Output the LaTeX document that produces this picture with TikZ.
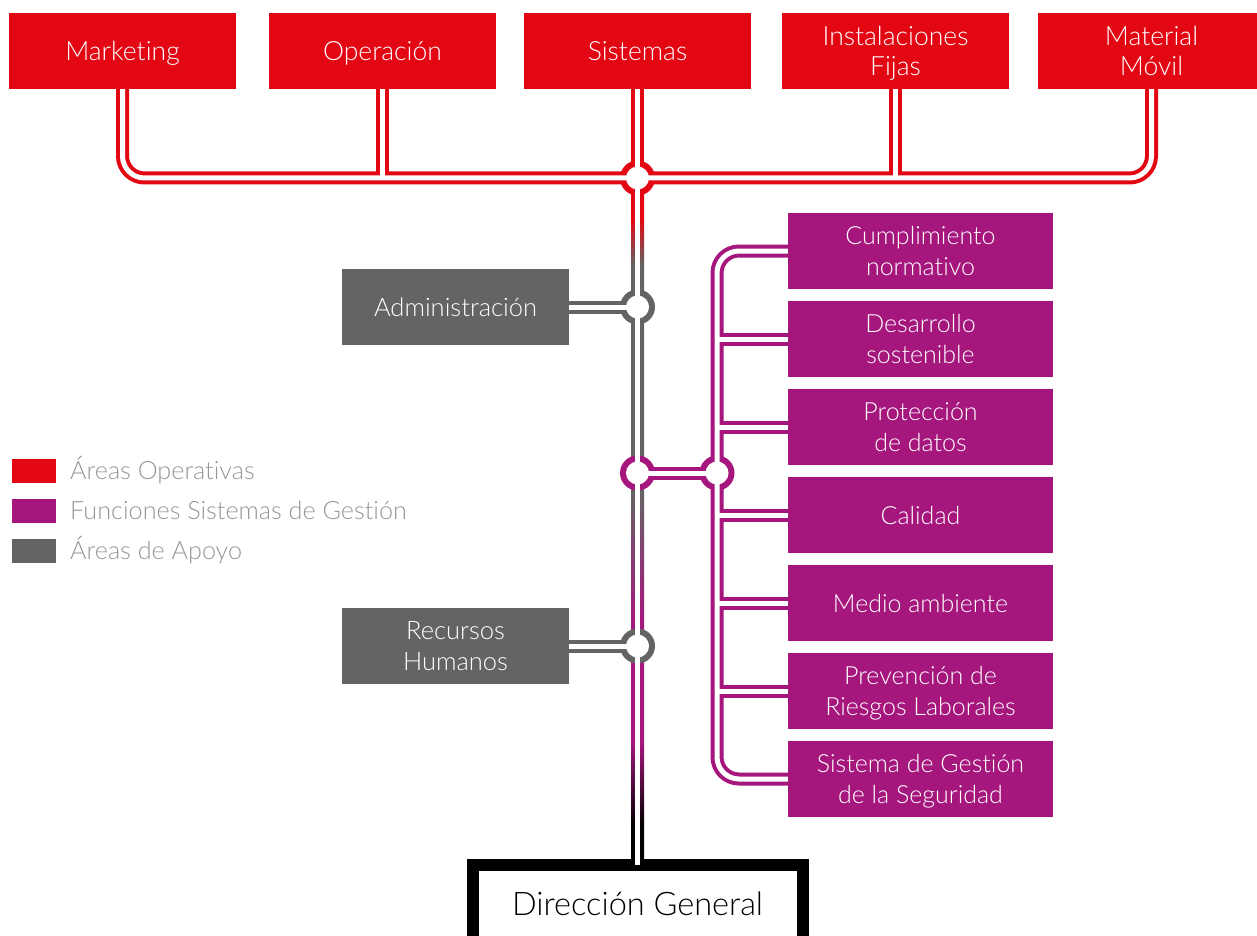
\documentclass[tikz,border=0pt]{standalone}
\usepackage{fontspec}
\setmainfont{Lato Light}[Ligatures={NoCommon}]
\definecolor{opred}{RGB}{227,6,19}
\definecolor{oppurple}{RGB}{166,23,126}
\definecolor{opgray}{RGB}{100,100,100}
\definecolor{legtext}{RGB}{150,150,150}
\pgfdeclareverticalshading{trunkshade}{100bp}{color(0bp)=(black); color(27.4bp)=(black); color(33.6bp)=(oppurple); color(42.4bp)=(oppurple); color(51.9bp)=(opgray); color(68.6bp)=(opgray); color(72bp)=(opred); color(100bp)=(opred)}
\tikzset{
  box/.style={rectangle, inner sep=0pt, text=white, align=center},
  one/.style={text height=19pt, text depth=0pt},
  two/.style={text height=49pt, text depth=0pt},
  redbox/.style={box, fill=opred, minimum width=227pt, minimum height=76pt, font=\fontsize{26.5}{30}\selectfont},
  graybox/.style={box, fill=opgray, minimum width=227pt, minimum height=76pt, font=\fontsize{25.5}{31}\selectfont},
  purplebox/.style={box, fill=oppurple, minimum width=265pt, minimum height=76pt, font=\fontsize{25}{31}\selectfont},
  pipe/.style={line width=13pt},
  core/.style={line width=5pt, draw=white},
  ring/.style={circle, inner sep=0pt, minimum size=35pt},
  hole/.style={circle, fill=white, inner sep=0pt, minimum size=23pt},
  legbox/.style={rectangle, inner sep=0pt, minimum width=44pt, minimum height=24pt},
  legtextstyle/.style={anchor=west, inner sep=0pt, text=legtext, text height=17pt, text depth=0pt, font=\fontsize{25.2}{28}\selectfont},
  dgbox/.style={rectangle, draw=black, line width=12pt, fill=white, inner sep=0pt, minimum width=330pt, minimum height=85pt, text height=23pt, text depth=8pt, font=\fontsize{32.5}{36}\selectfont}
}
\begin{document}
\begin{tikzpicture}[x=1pt,y=-1pt]
\useasboundingbox (0,0) rectangle (1257,936);
\clip (0,0) rectangle (1257,936);

% top boxes
\node[redbox, one] (mk) at (122.5,51) {Marketing};
\node[redbox, one] (op) at (382.5,51) {Operación};
\node[redbox, one] (si) at (637.5,51) {Sistemas};
\node[redbox, two] (inst) at (895.5,51) {Instalaciones\\Fijas};
\node[redbox, two] (mat) at (1151.5,51) {Material\\Móvil};

% support boxes
\node[graybox, one] (adm) at (455.5,307) {Administración};
\node[graybox, two] (rh) at (455.5,646) {Recursos\\Humanos};

% management functions
\node[purplebox, two] (c1) at (920.5,251) {Cumplimiento\\normativo};
\node[purplebox, two] (c2) at (920.5,339) {Desarrollo\\sostenible};
\node[purplebox, two] (c3) at (920.5,427) {Protección\\de datos};
\node[purplebox, one] (c4) at (920.5,515) {Calidad};
\node[purplebox, one] (c5) at (920.5,603) {Medio ambiente};
\node[purplebox, two] (c6) at (920.5,691) {Prevención de\\Riesgos Laborales};
\node[purplebox, two] (c7) at (920.5,779) {Sistema de Gestión\\de la Seguridad};

% junctions
\coordinate (j0) at (637.5,178);
\coordinate (j1) at (637.5,307);
\coordinate (j2) at (637.5,473);
\coordinate (j3) at (717,473);
\coordinate (j4) at (637.5,646);

% legend
\node[legbox, fill=opred] (l1) at (34,471) {};
\node[legbox, fill=oppurple] (l2) at (34,511) {};
\node[legbox, fill=opgray] (l3) at (34,551) {};
\node[legtextstyle] (t1) at (70,471) {Áreas Operativas};
\node[legtextstyle] (t2) at (70,511) {Funciones Sistemas de Gestión};
\node[legtextstyle] (t3) at (70,551) {Áreas de Apoyo};

% pipe paths
\def\redA{(mk.south) -- (mk.south |- j0) -- (mat.south |- j0) -- (mat.south)}
\def\redB{(op.south) -- (op.south |- j0)}
\def\redC{(inst.south) -- (inst.south |- j0)}
\def\redD{(si.south) -- (j0)}
\def\grayA{(adm.east) -- (j1)}
\def\grayB{(rh.east) -- (j4)}
\def\purA{(c1.west) -- (c1.west -| j3) -- (c7.west -| j3) -- (c7.west)}
\def\purB{(j2) -- (j3)}

% outer strokes
\draw[pipe, opred, rounded corners=22pt] \redA;
\draw[pipe, opred] \redB;
\draw[pipe, opred] \redC;
\draw[pipe, opred] \redD;
\draw[pipe, opgray] \grayA;
\draw[pipe, opgray] \grayB;
\draw[pipe, oppurple, rounded corners=22pt] \purA;
\draw[pipe, oppurple] \purB;
\foreach \c in {c2,c3,c4,c5,c6} {\draw[pipe, oppurple] (\c.west -| j3) -- (\c.west);}

% Direccion General
\node[dgbox] (dg) at (637.5,907.5) {Dirección General};

% trunk
\shade[shading=trunkshade] ([xshift=-6.5pt]j0) rectangle ([xshift=6.5pt]dg.north);

% rings
\node[ring, fill=opred] (r0) at (j0) {};
\node[ring, fill=opgray] (r1) at (j1) {};
\node[ring, fill=oppurple] (r2) at (j2) {};
\node[ring, fill=oppurple] (r3) at (j3) {};
\node[ring, fill=opgray] (r4) at (j4) {};

% white cores
\draw[core, rounded corners=22pt] \redA;
\draw[core] \redB;
\draw[core] \redC;
\draw[core] \redD;
\draw[core] \grayA;
\draw[core] \grayB;
\draw[core, rounded corners=22pt] \purA;
\draw[core] \purB;
\foreach \c in {c2,c3,c4,c5,c6} {\draw[core] (\c.west -| j3) -- (\c.west);}
\draw[core] (j0) -- ([yshift=-6pt]dg.north);
\foreach \j in {j0,j1,j2,j3,j4} {\node[hole] at (\j) {};}
\end{tikzpicture}
\end{document}
